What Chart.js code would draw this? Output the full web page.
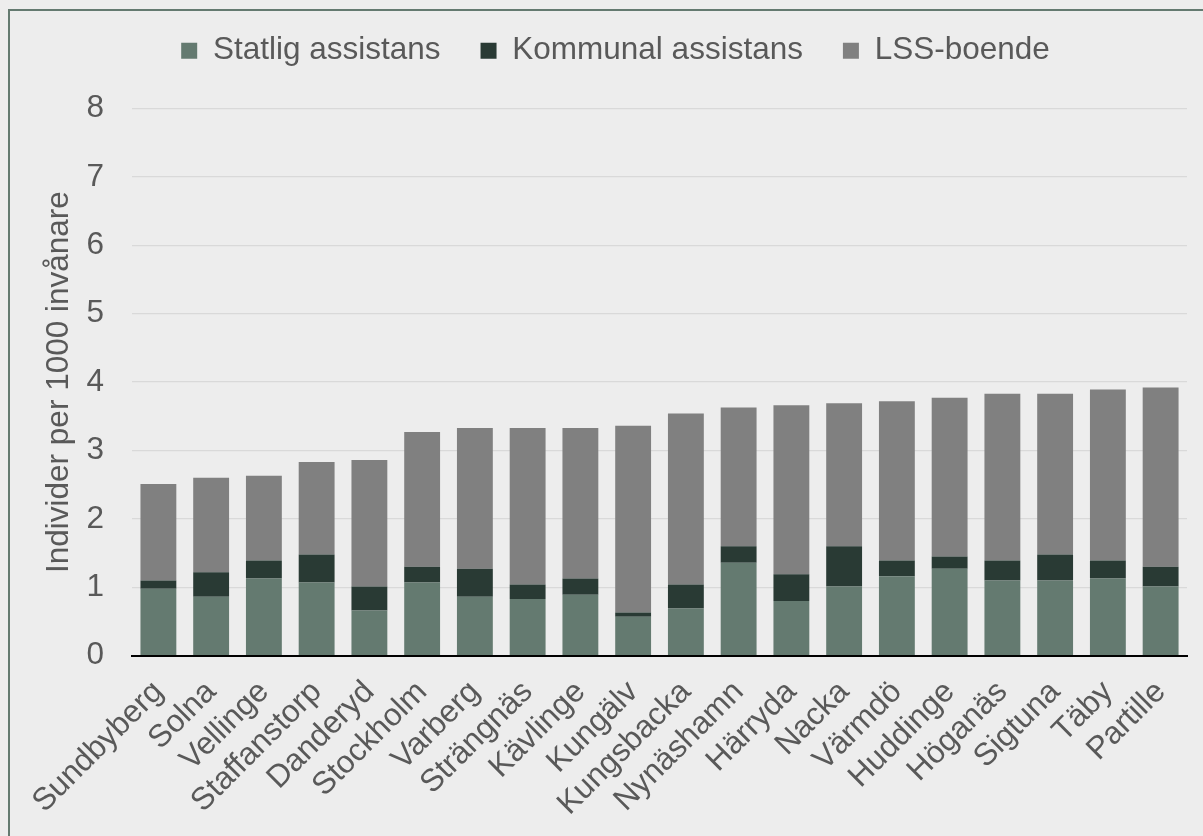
<!DOCTYPE html>
<html>
<head>
<meta charset="utf-8">
<script src="https://cdn.jsdelivr.net/npm/chart.js@4/dist/chart.umd.min.js"></script>
<style>
    html, body { margin: 0; padding: 0; background: #EDEDED; overflow: hidden; }
    #frame {
        position: absolute; left: 8px; top: 9px;
        width: 1193px; height: 825px;
        border-left: 2px solid #647A70; border-top: 2px solid #647A70;
    }
    #wrap {
        position: absolute; left: 10px; top: -5px;
        width: 1193px; height: 841px;
    }
</style>
</head>
<body>
<div id="frame"></div>
<div id="wrap"><canvas id="myBarChart"></canvas></div>
<script>
// Kommuner, sorted by total
var kommuner = ["Sundbyberg", "Solna", "Vellinge", "Staffanstorp", "Danderyd", "Stockholm", "Varberg", "Strängnäs", "Kävlinge", "Kungälv",
    "Kungsbacka", "Nynäshamn", "Härryda", "Nacka", "Värmdö", "Huddinge", "Höganäs", "Sigtuna", "Täby", "Partille"];
var statlig = [0.98, 0.86, 1.13, 1.07, 0.66, 1.07, 0.86, 0.83, 0.89, 0.57, 0.69, 1.36, 0.80, 1.01, 1.16, 1.27, 1.10, 1.10, 1.13, 1.01];
var kommunal = [0.12, 0.36, 0.26, 0.41, 0.35, 0.23, 0.41, 0.21, 0.24, 0.06, 0.35, 0.24, 0.39, 0.59, 0.23, 0.18, 0.29, 0.38, 0.26, 0.29];
var lssBoende = [1.41, 1.38, 1.24, 1.35, 1.85, 1.97, 2.06, 2.29, 2.20, 2.73, 2.50, 2.03, 2.47, 2.09, 2.33, 2.32, 2.44, 2.35, 2.50, 2.62];

var textColor = '#595959';
var fontFamily = '"Liberation Sans", Arial, sans-serif';
var fontSize = 31.5;

// Extra room between the legend and the plot
var legendSpacing = {
    id: 'legendSpacing',
    beforeInit: function (chart) {
        var fit = chart.legend.fit;
        chart.legend.fit = function () {
            fit.bind(chart.legend)();
            this.height += 32;
        };
    }
};

function createStackedBarChart() {
    var ctx = document.getElementById('myBarChart').getContext('2d');
    window.myBarChart = new Chart(ctx, {
        type: 'bar',
        data: {
            labels: kommuner,
            datasets: [
                { label: 'Statlig assistans', data: statlig, backgroundColor: '#647A70' },
                { label: 'Kommunal assistans', data: kommunal, backgroundColor: '#293A34' },
                { label: 'LSS-boende', data: lssBoende, backgroundColor: '#808080' }
            ]
        },
        plugins: [legendSpacing],
        options: {
            responsive: true,
            maintainAspectRatio: false,
            animation: false,
            datasets: {
                bar: { categoryPercentage: 1, barPercentage: 0.68 }
            },
            layout: {
                padding: { left: 34, right: 16, top: 0, bottom: 3 }
            },
            scales: {
                x: {
                    stacked: true,
                    grid: { display: false },
                    border: { color: '#000000', width: 2 },
                    ticks: {
                        color: textColor,
                        minRotation: 45,
                        maxRotation: 45,
                        autoSkip: false,
                        padding: 10,
                        font: { family: fontFamily, size: fontSize }
                    },
                    // rotated labels may hang left of the plot, like in the original
                    afterFit: function (scale) {
                        scale.paddingLeft = 0;
                        scale.paddingRight = 0;
                    }
                },
                y: {
                    stacked: true,
                    min: 0,
                    max: 8,
                    border: { display: false },
                    grid: { color: '#D9D9D9', lineWidth: 1.3, drawTicks: false },
                    ticks: {
                        stepSize: 1,
                        color: textColor,
                        padding: 28,
                        font: { family: fontFamily, size: fontSize }
                    },
                    title: {
                        display: true,
                        text: 'Individer per 1000 invånare',
                        color: textColor,
                        padding: { top: 0, bottom: 10 },
                        font: { family: fontFamily, size: fontSize, weight: 'normal', lineHeight: 1 }
                    },
                    // tick padding is counted twice in the width, take one back
                    afterFit: function (scale) {
                        scale.width -= 27;
                    }
                }
            },
            plugins: {
                tooltip: { enabled: false },
                legend: {
                    position: 'top',
                    labels: {
                        color: textColor,
                        boxWidth: 16,
                        boxHeight: 16,
                        padding: 40,
                        font: { family: fontFamily, size: fontSize }
                    }
                }
            }
        }
    });
}

createStackedBarChart();
</script>
</body>
</html>
